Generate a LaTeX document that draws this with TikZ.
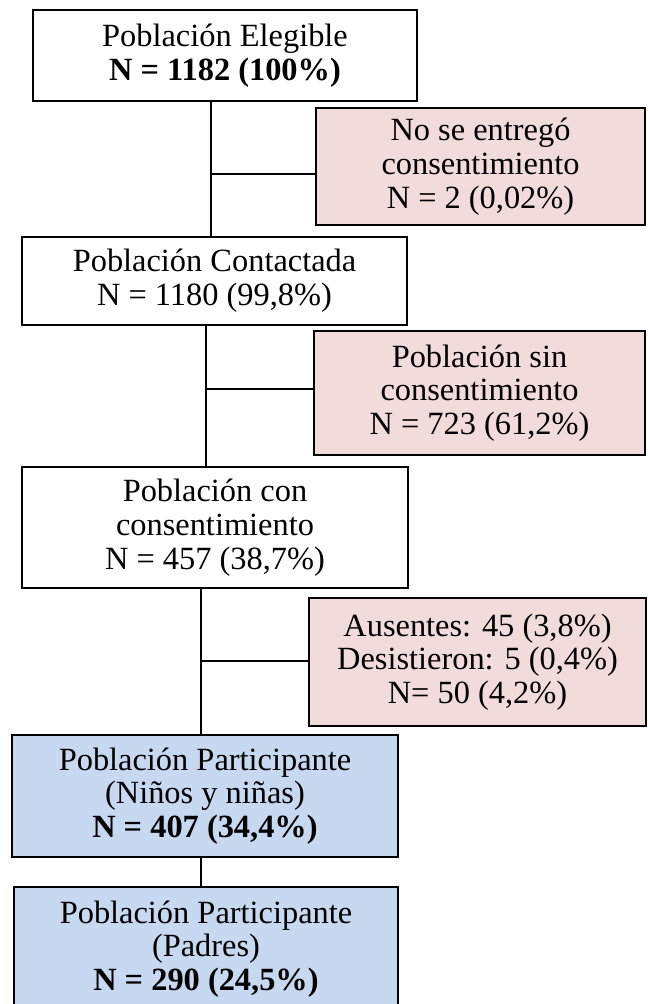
\documentclass[tikz,border=0pt]{standalone}
\usepackage{fontspec}
\setmainfont{Liberation Serif}
\definecolor{pinkf}{HTML}{F2DCDB}
\definecolor{bluef}{HTML}{C6D9F1}
\begin{document}
\begin{tikzpicture}[x=0.75pt,y=-0.75pt,
  box/.style 2 args={draw=black, line width=1.5pt, align=center, inner sep=0pt,
    minimum width=#1*0.75pt, minimum height=#2*0.75pt,
    font=\fontsize{24.3}{25.3}\selectfont},
  plain/.style={fill=white},
  excl/.style={fill=pinkf},
  part/.style={fill=bluef},
  conn/.style={draw=black, line width=1.2pt}]
\useasboundingbox (0,0) rectangle (647,1004);
\begin{scope}
\clip (0,0) rectangle (647,1004);
\node[box={384}{91}, plain] (b1) at (225,55.5) {Población Elegible\\\textbf{N = 1182 (100\%)}};
\node[box={329}{117}, excl] (p1) at (480.5,166.5) {No se entregó\\consentimiento\\N = 2 (0,02\%)};
\node[box={385}{88}, plain] (b2) at (214.5,281) {Población Contactada\\N = 1180 (99,8\%)};
\node[box={331}{124}, excl] (p2) at (479.5,393) {Población sin\\consentimiento\\N = 723 (61,2\%)};
\node[box={386}{121}, plain] (b3) at (215,527.5) {Población con\\consentimiento\\N = 457 (38,7\%)};
\node[box={337}{128}, excl] (p3) at (477.5,662) {Ausentes: 45 (3,8\%)\\Desistieron: 5 (0,4\%)\\N= 50 (4,2\%)};
\node[box={386}{122}, part] (q1) at (205,796) {Población Participante\\(Niños y niñas)\\\textbf{N = 407 (34,4\%)}};
\node[box={384}{124}, part] (q2) at (206,949) {Población Participante\\(Padres)\\\textbf{N = 290 (24,5\%)}};
\coordinate (j1) at (211,174);
\coordinate (j2) at (206,389);
\coordinate (j3) at (201,661);
\draw[conn] (j1 |- b1.south) -- (j1 |- b2.north);
\draw[conn] (j1) -- (j1 -| p1.west);
\draw[conn] (j2 |- b2.south) -- (j2 |- b3.north);
\draw[conn] (j2) -- (j2 -| p2.west);
\draw[conn] (j3 |- b3.south) -- (j3 |- q1.north);
\draw[conn] (j3) -- (j3 -| p3.west);
\draw[conn] (j3 |- q1.south) -- (j3 |- q2.north);
\end{scope}
\end{tikzpicture}
\end{document}
